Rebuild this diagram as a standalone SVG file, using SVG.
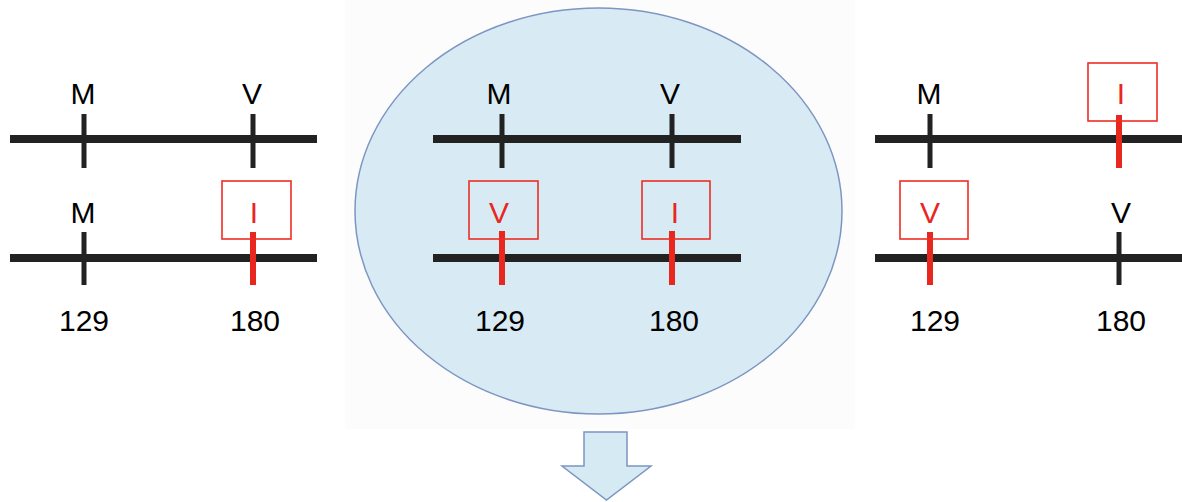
<svg xmlns="http://www.w3.org/2000/svg" width="1182" height="502" viewBox="0 0 1182 502">
<style>
  .bar{stroke:#222;stroke-width:8;fill:none}
  .tk{stroke:#222;stroke-width:5;fill:none}
  .rt{stroke:#e8271e;stroke-width:6;fill:none}
  .box{fill:none;stroke:#ee2d24;stroke-width:1.6}
  .lb{font-family:"Liberation Sans",Arial,sans-serif;font-size:30px;text-anchor:middle;fill:#000}
  .red{fill:#e8271e}
</style>
<rect width="1182" height="502" fill="#fff"/>
<rect x="345" y="0" width="510" height="429" fill="#fcfcfc"/>
<g id="left">
  <path class="bar" d="M10 139H317M10 258H317"/>
  <path class="tk" d="M84 114V168M253 114V168M84 232V285"/>
  <path class="rt" d="M253 232V285"/>
  <rect class="box" x="222" y="181" width="69" height="58"/>
  <text class="lb" x="83" y="104">M</text>
  <text class="lb" x="252" y="104">V</text>
  <text class="lb" x="83" y="223">M</text>
  <text class="lb red" x="254" y="223">I</text>
  <text class="lb" x="84" y="331">129</text>
  <text class="lb" x="255" y="331">180</text>
</g>
<g id="center">
  <ellipse cx="598.5" cy="211" rx="243.5" ry="203" fill="#d8ebf4" stroke="#7d95c2" stroke-width="1.5"/>
  <path class="bar" d="M433 139H741M433 258H741"/>
  <path class="tk" d="M502 114V168M672 114V168"/>
  <path class="rt" d="M502 231V285M672 231V285"/>
  <rect class="box" x="469" y="181" width="69" height="58"/>
  <rect class="box" x="642" y="181" width="68" height="58"/>
  <text class="lb" x="499" y="104">M</text>
  <text class="lb" x="670" y="104">V</text>
  <text class="lb red" x="499" y="223">V</text>
  <text class="lb red" x="675" y="223">I</text>
  <text class="lb" x="500" y="331">129</text>
  <text class="lb" x="674" y="331">180</text>
</g>
<g id="right">
  <path class="bar" d="M875 139H1182M875 258H1182"/>
  <path class="tk" d="M930 114V168M1119 232V285"/>
  <path class="rt" d="M1119 115V168M930 232V285"/>
  <rect class="box" x="1088" y="63" width="69" height="58"/>
  <rect class="box" x="900" y="181" width="68" height="58"/>
  <text class="lb" x="929" y="104">M</text>
  <text class="lb red" x="1121" y="104">I</text>
  <text class="lb red" x="930" y="223">V</text>
  <text class="lb" x="1121" y="223">V</text>
  <text class="lb" x="935" y="331">129</text>
  <text class="lb" x="1121" y="331">180</text>
</g>
<g id="connectors">
  <path d="M584 432H627V466H651L606.5 500L562 466H584Z" fill="#d6eaf4" stroke="#7d95c2" stroke-width="1.5"/>
</g>
</svg>
